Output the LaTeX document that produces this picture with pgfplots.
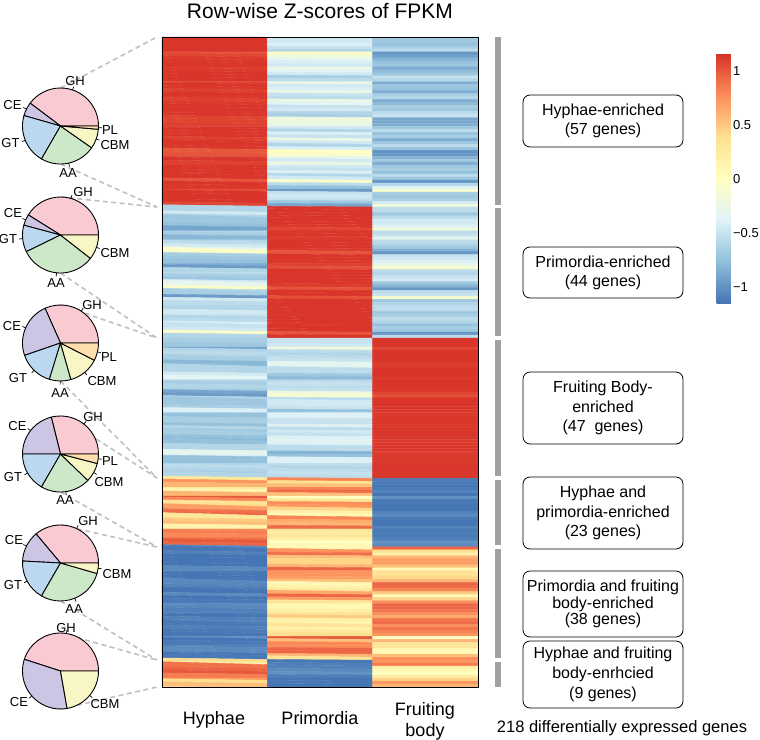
\documentclass[border=0pt]{standalone}
\usepackage{fontspec}
\setmainfont{Liberation Sans}
\usepackage{pgfplots}
\pgfplotsset{compat=1.18}
\definecolor{cGH}{RGB}{250,202,210}
\definecolor{cCE}{RGB}{205,197,228}
\definecolor{cGT}{RGB}{188,216,240}
\definecolor{cAA}{RGB}{205,232,200}
\definecolor{cCBM}{RGB}{248,246,196}
\definecolor{cPL}{RGB}{253,222,172}
\definecolor{barg}{RGB}{160,160,160}
\definecolor{dashg}{RGB}{192,192,192}
\newcommand{\slice}[5]{\filldraw[fill=#5,draw=black,line width=0.9pt,line join=round] (#1,#2) -- ++(#3:38) arc[start angle=#3,end angle=#4,radius=38] -- cycle;}
\newcommand{\ptick}[3]{\draw[line width=0.7pt] (#1,#2) ++(#3:38) -- ++(#3:3.5);}
\begin{document}
\begin{tikzpicture}[x=1pt,y=1pt]
\useasboundingbox (0,0) rectangle (760,-739);
% connector lines
\begin{scope}[color=dashg, line width=1.6pt, dash pattern=on 5pt off 3.5pt]
\draw (60.5,-88) -- (157,-37);
\draw (60.5,-164) -- (157,-207);
\draw (60.5,-197) -- (157,-207);
\draw (60.5,-273) -- (157,-338);
\draw (60.5,-305) -- (157,-338);
\draw (60.5,-381) -- (157,-478);
\draw (60.5,-416) -- (157,-478);
\draw (60.5,-492) -- (157,-547);
\draw (60.5,-525) -- (157,-547);
\draw (60.5,-601) -- (157,-660);
\draw (60.5,-633) -- (157,-660);
\draw (60.5,-709) -- (157,-687);
\end{scope}
\begin{axis}[at={(162pt,-687pt)}, anchor=south west, scale only axis,
  width=316pt, height=650pt,
  xmin=-0.5, xmax=2.5, ymin=-0.5, ymax=217.5, y dir=reverse,
  enlargelimits=false, xtick=\empty, ytick=\empty, axis on top,
  axis line style={line width=0.8pt, black}, clip=false,
  colormap={rdylbu}{rgb255=(69,117,180) rgb255=(145,191,219) rgb255=(224,243,248) rgb255=(255,255,191) rgb255=(254,224,144) rgb255=(252,141,89) rgb255=(215,48,39)},
  point meta min=-1.15, point meta max=1.17,
  colorbar,
  colorbar style={at={(parent axis.north east)}, anchor=north west,
    xshift=230pt, yshift=-16pt, scale only axis, width=17pt, height=250pt,
    y dir=normal, ytick={-1,-0.5,0,0.5,1}, yticklabels={−1,−0.5,0,0.5,1},
    yticklabel style={font=\fontsize{13}{14}\selectfont, xshift=-4pt},
    major tick length=0pt, axis line style={draw=none}},
]
\addplot[matrix plot*, mesh/cols=3, point meta=explicit]
 table[header=false, row sep=\\, x expr={mod(\coordindex,3)}, y expr={floor(\coordindex/3)}, meta index=0] {
1.15\\ -0.45\\ -0.70\\
1.15\\ -0.45\\ -0.70\\
1.14\\ -0.40\\ -0.74\\
1.15\\ -0.50\\ -0.65\\
1.15\\ -0.60\\ -0.55\\
1.02\\ -0.05\\ -0.97\\
1.07\\ -0.15\\ -0.92\\
1.12\\ -0.30\\ -0.82\\
1.14\\ -0.40\\ -0.74\\
1.15\\ -0.45\\ -0.70\\
1.10\\ -0.25\\ -0.85\\
1.13\\ -0.35\\ -0.78\\
1.15\\ -0.45\\ -0.70\\
1.15\\ -0.65\\ -0.50\\
1.15\\ -0.55\\ -0.60\\
1.10\\ -0.25\\ -0.85\\
1.15\\ -0.45\\ -0.70\\
1.14\\ -0.40\\ -0.74\\
1.10\\ -0.25\\ -0.85\\
1.15\\ -0.50\\ -0.65\\
1.15\\ -0.55\\ -0.60\\
1.10\\ -0.25\\ -0.85\\
1.13\\ -0.35\\ -0.78\\
1.15\\ -0.50\\ -0.65\\
1.15\\ -0.45\\ -0.70\\
1.15\\ -0.60\\ -0.55\\
1.15\\ -0.65\\ -0.50\\
1.09\\ -0.20\\ -0.89\\
1.09\\ -0.20\\ -0.89\\
1.10\\ -0.25\\ -0.85\\
1.15\\ -0.45\\ -0.70\\
1.15\\ -0.60\\ -0.55\\
1.14\\ -0.40\\ -0.74\\
1.15\\ -0.50\\ -0.65\\
1.10\\ -0.25\\ -0.85\\
1.15\\ -0.45\\ -0.70\\
1.15\\ -0.60\\ -0.55\\
1.14\\ -0.40\\ -0.74\\
1.00\\ 0.00\\ -1.00\\
1.02\\ -0.05\\ -0.97\\
1.12\\ -0.30\\ -0.82\\
1.15\\ -0.45\\ -0.70\\
1.10\\ -0.25\\ -0.85\\
1.15\\ -0.45\\ -0.70\\
1.15\\ -0.50\\ -0.65\\
1.14\\ -0.40\\ -0.74\\
1.15\\ -0.60\\ -0.55\\
1.15\\ -0.45\\ -0.70\\
1.02\\ -0.05\\ -0.97\\
1.15\\ -0.55\\ -0.60\\
1.14\\ -0.75\\ -0.39\\
1.04\\ -0.95\\ -0.09\\
1.15\\ -0.50\\ -0.65\\
1.15\\ -0.45\\ -0.70\\
1.15\\ -0.50\\ -0.65\\
1.15\\ -0.70\\ -0.45\\
1.08\\ -0.90\\ -0.18\\
-0.60\\ 1.15\\ -0.55\\
-0.60\\ 1.15\\ -0.55\\
-0.45\\ 1.15\\ -0.70\\
-0.60\\ 1.15\\ -0.55\\
-0.70\\ 1.15\\ -0.45\\
-0.70\\ 1.15\\ -0.45\\
-0.75\\ 1.14\\ -0.39\\
-0.90\\ 1.08\\ -0.18\\
-0.60\\ 1.15\\ -0.55\\
-0.65\\ 1.15\\ -0.50\\
-0.80\\ 1.12\\ -0.32\\
-0.60\\ 1.15\\ -0.55\\
-0.55\\ 1.15\\ -0.60\\
-0.45\\ 1.15\\ -0.70\\
-0.30\\ 1.12\\ -0.82\\
-0.05\\ 1.02\\ -0.97\\
-0.65\\ 1.15\\ -0.50\\
-0.70\\ 1.15\\ -0.45\\
-0.75\\ 1.14\\ -0.39\\
-0.85\\ 1.10\\ -0.25\\
-0.95\\ 1.04\\ -0.09\\
-0.60\\ 1.15\\ -0.55\\
-0.55\\ 1.15\\ -0.60\\
-0.65\\ 1.15\\ -0.50\\
-0.70\\ 1.15\\ -0.45\\
-0.45\\ 1.15\\ -0.70\\
-0.30\\ 1.12\\ -0.82\\
-0.05\\ 1.02\\ -0.97\\
-0.60\\ 1.15\\ -0.55\\
-0.65\\ 1.15\\ -0.50\\
-0.95\\ 1.04\\ -0.09\\
-0.45\\ 1.15\\ -0.70\\
-0.55\\ 1.15\\ -0.60\\
-0.60\\ 1.15\\ -0.55\\
-0.60\\ 1.15\\ -0.55\\
-0.45\\ 1.15\\ -0.70\\
-0.50\\ 1.15\\ -0.65\\
-0.60\\ 1.15\\ -0.55\\
-0.55\\ 1.15\\ -0.60\\
-0.40\\ 1.14\\ -0.74\\
-0.50\\ 1.15\\ -0.65\\
-0.45\\ 1.15\\ -0.70\\
-0.05\\ 1.02\\ -0.97\\
-0.60\\ 1.15\\ -0.55\\
-0.65\\ -0.50\\ 1.15\\
-0.65\\ -0.50\\ 1.15\\
-0.70\\ -0.45\\ 1.15\\
-0.90\\ -0.18\\ 1.08\\
-0.60\\ -0.55\\ 1.15\\
-0.55\\ -0.60\\ 1.15\\
-0.60\\ -0.55\\ 1.15\\
-0.65\\ -0.50\\ 1.15\\
-0.80\\ -0.32\\ 1.12\\
-0.80\\ -0.32\\ 1.12\\
-0.60\\ -0.55\\ 1.15\\
-0.60\\ -0.55\\ 1.15\\
-0.45\\ -0.70\\ 1.15\\
-0.35\\ -0.78\\ 1.13\\
-0.60\\ -0.55\\ 1.15\\
-0.65\\ -0.50\\ 1.15\\
-0.60\\ -0.55\\ 1.15\\
-0.65\\ -0.50\\ 1.15\\
-0.90\\ -0.18\\ 1.08\\
-0.95\\ -0.09\\ 1.04\\
-0.60\\ -0.55\\ 1.15\\
-0.70\\ -0.45\\ 1.15\\
-0.70\\ -0.45\\ 1.15\\
-0.65\\ -0.50\\ 1.15\\
-0.40\\ -0.74\\ 1.14\\
-0.75\\ -0.39\\ 1.14\\
-0.75\\ -0.39\\ 1.14\\
-0.65\\ -0.50\\ 1.15\\
-0.65\\ -0.50\\ 1.15\\
-0.75\\ -0.39\\ 1.14\\
-0.60\\ -0.55\\ 1.15\\
-0.70\\ -0.45\\ 1.15\\
-0.65\\ -0.50\\ 1.15\\
-0.75\\ -0.39\\ 1.14\\
-0.80\\ -0.32\\ 1.12\\
-0.75\\ -0.39\\ 1.14\\
-0.60\\ -0.55\\ 1.15\\
-0.60\\ -0.55\\ 1.15\\
-0.30\\ -0.82\\ 1.12\\
-0.40\\ -0.74\\ 1.14\\
-0.75\\ -0.39\\ 1.14\\
-0.75\\ -0.39\\ 1.14\\
-0.60\\ -0.55\\ 1.15\\
-0.55\\ -0.60\\ 1.15\\
-0.60\\ -0.55\\ 1.15\\
-0.65\\ -0.50\\ 1.15\\
-0.60\\ -0.55\\ 1.15\\
0.30\\ 0.82\\ -1.12\\
0.75\\ 0.39\\ -1.14\\
0.60\\ 0.55\\ -1.15\\
0.30\\ 0.82\\ -1.12\\
0.15\\ 0.92\\ -1.07\\
0.60\\ 0.55\\ -1.15\\
1.00\\ 0.00\\ -1.00\\
0.80\\ 0.32\\ -1.12\\
0.35\\ 0.78\\ -1.13\\
0.40\\ 0.74\\ -1.14\\
0.70\\ 0.45\\ -1.15\\
0.90\\ 0.18\\ -1.08\\
0.95\\ 0.09\\ -1.04\\
0.30\\ 0.82\\ -1.12\\
0.50\\ 0.65\\ -1.15\\
0.55\\ 0.60\\ -1.15\\
0.15\\ 0.92\\ -1.07\\
0.80\\ 0.32\\ -1.12\\
0.85\\ 0.25\\ -1.10\\
0.80\\ 0.32\\ -1.12\\
0.90\\ 0.18\\ -1.08\\
1.00\\ 0.00\\ -1.00\\
0.95\\ 0.09\\ -1.04\\
-1.05\\ 0.10\\ 0.95\\
-1.14\\ 0.75\\ 0.39\\
-1.08\\ 0.90\\ 0.18\\
-1.15\\ 0.55\\ 0.60\\
-1.15\\ 0.45\\ 0.70\\
-1.15\\ 0.45\\ 0.70\\
-1.15\\ 0.60\\ 0.55\\
-1.04\\ 0.95\\ 0.09\\
-1.14\\ 0.75\\ 0.39\\
-1.14\\ 0.75\\ 0.39\\
-1.15\\ 0.70\\ 0.45\\
-1.15\\ 0.55\\ 0.60\\
-1.05\\ 0.10\\ 0.95\\
-1.07\\ 0.15\\ 0.92\\
-1.12\\ 0.30\\ 0.82\\
-1.15\\ 0.65\\ 0.50\\
-1.04\\ 0.95\\ 0.09\\
-1.15\\ 0.70\\ 0.45\\
-1.13\\ 0.35\\ 0.78\\
-1.05\\ 0.10\\ 0.95\\
-1.05\\ 0.10\\ 0.95\\
-1.09\\ 0.20\\ 0.89\\
-1.13\\ 0.35\\ 0.78\\
-1.15\\ 0.50\\ 0.65\\
-1.09\\ 0.20\\ 0.89\\
-1.07\\ 0.15\\ 0.92\\
-1.13\\ 0.35\\ 0.78\\
-1.09\\ 0.20\\ 0.89\\
-1.12\\ 0.30\\ 0.82\\
-1.14\\ 0.40\\ 0.74\\
-1.00\\ 1.00\\ 0.00\\
-1.15\\ 0.55\\ 0.60\\
-1.12\\ 0.80\\ 0.32\\
-1.12\\ 0.80\\ 0.32\\
-1.04\\ 0.95\\ 0.09\\
-1.04\\ 0.95\\ 0.09\\
-1.15\\ 0.60\\ 0.55\\
-1.13\\ 0.35\\ 0.78\\
0.40\\ -1.14\\ 0.74\\
0.25\\ -1.10\\ 0.85\\
0.90\\ -1.08\\ 0.18\\
0.95\\ -1.04\\ 0.09\\
1.00\\ -1.00\\ 0.00\\
0.85\\ -1.10\\ 0.25\\
0.70\\ -1.15\\ 0.45\\
0.40\\ -1.14\\ 0.74\\
0.55\\ -1.15\\ 0.60\\
};
% group bars
\fill[barg] (axis cs:2.6614,-0.5) rectangle (axis cs:2.7184,56.0);
\fill[barg] (axis cs:2.6614,57.0) rectangle (axis cs:2.7184,99.9);
\fill[barg] (axis cs:2.6614,101.0) rectangle (axis cs:2.7184,146.8);
\fill[barg] (axis cs:2.6614,148.2) rectangle (axis cs:2.7184,169.8);
\fill[barg] (axis cs:2.6614,171.2) rectangle (axis cs:2.7184,207.8);
\fill[barg] (axis cs:2.6614,209.2) rectangle (axis cs:2.7184,217.5);
\end{axis}
% pies
\foreach \a/\b/\c in {0/143/cGH,143/164/cCE,164/240/cGT,240/325/cAA,325/355/cCBM,355/360/cPL}{\slice{60.5}{-126}{\a}{\b}{\c}}
\foreach \m in {71.5,153.5,202,282.5,340,357.5}{\ptick{60.5}{-126}{\m}}
\foreach \a/\b/\c in {0/148/cGH,148/165/cCE,165/206/cGT,206/322/cAA,322/360/cCBM}{\slice{60.5}{-235}{\a}{\b}{\c}}
\foreach \m in {74,156.5,185.5,264,341}{\ptick{60.5}{-235}{\m}}
\foreach \a/\b/\c in {0/114/cGH,114/199/cCE,199/253/cGT,253/286/cAA,286/333/cCBM,333/360/cPL}{\slice{60.5}{-343}{\a}{\b}{\c}}
\foreach \m in {57,156.5,226,269.5,309.5,346.5}{\ptick{60.5}{-343}{\m}}
\foreach \a/\b/\c in {0/104/cGH,104/180/cCE,180/240/cGT,240/316/cAA,316/345.5/cCBM,345.5/360/cPL}{\slice{60.5}{-454}{\a}{\b}{\c}}
\foreach \m in {52,142,210,278,330.75,352.75}{\ptick{60.5}{-454}{\m}}
\foreach \a/\b/\c in {0/130/cGH,130/177/cCE,177/240/cGT,240/344/cAA,344/360/cCBM}{\slice{60.5}{-563}{\a}{\b}{\c}}
\foreach \m in {65,153.5,208.5,292,352}{\ptick{60.5}{-563}{\m}}
\foreach \a/\b/\c in {0/162/cGH,162/280/cCE,280/360/cCBM}{\slice{60.5}{-671}{\a}{\b}{\c}}
\foreach \m in {81,221,320}{\ptick{60.5}{-671}{\m}}
% pie labels
\begin{scope}[every node/.style={font=\fontsize{13}{13}\selectfont, inner sep=0pt}]
\node at (75,-81) {GH}; \node at (12.5,-105) {CE}; \node at (10.5,-143) {GT};
\node at (68,-173) {AA}; \node at (115,-145) {CBM}; \node at (110,-130) {PL};
\node at (83,-192) {GH}; \node at (13,-213) {CE}; \node at (8,-239) {GT};
\node at (56,-283) {AA}; \node at (115,-253) {CBM};
\node at (92,-305) {GH}; \node at (12,-326) {CE}; \node at (18,-378) {GT};
\node at (60,-393) {AA}; \node at (102,-381) {CBM}; \node at (109,-357) {PL};
\node at (93,-417) {GH}; \node at (17.5,-426) {CE}; \node at (13,-477) {GT};
\node at (65,-500) {AA}; \node at (109,-482) {CBM}; \node at (110,-461) {PL};
\node at (88,-521) {GH}; \node at (14,-540) {CE}; \node at (13,-585) {GT};
\node at (74,-609) {AA}; \node at (117,-574) {CBM};
\node at (66,-628) {GH}; \node at (19,-702) {CE}; \node at (105,-704) {CBM};
\end{scope}
% title and column labels
\node[font=\fontsize{21}{24}\selectfont] at (320,-10.5) {Row-wise Z-scores of FPKM};
\node[font=\fontsize{18}{21}\selectfont, anchor=base] at (214,-724) {Hyphae};
\node[font=\fontsize{18}{21}\selectfont, anchor=base] at (320,-724) {Primordia};
\node[font=\fontsize{18}{21}\selectfont, anchor=base] at (425,-715) {Fruiting};
\node[font=\fontsize{18}{21}\selectfont, anchor=base] at (425,-736) {body};
% boxes
\begin{scope}[line width=0.8pt, rounded corners=7pt]
\draw (523,-95) rectangle (683,-147);
\draw (523,-247) rectangle (683,-298);
\draw (523,-372) rectangle (683,-444);
\draw (523,-477) rectangle (683,-549);
\draw (523,-571) rectangle (683,-637);
\draw (523,-641) rectangle (683,-708);
\end{scope}
\begin{scope}[every node/.style={align=center, font=\fontsize{16}{19}\selectfont, inner sep=0pt}]
\node at (603,-121) {Hyphae-enriched\\(57 genes)};
\node at (603,-272.5) {Primordia-enriched\\(44 genes)};
\node[font=\fontsize{16}{19.5}\selectfont] at (603,-408) {Fruiting Body-\\enriched\\(47\ \ genes)};
\node[font=\fontsize{16}{19.5}\selectfont] at (603,-513) {Hyphae and\\primordia-enriched\\(23 genes)};
\node[font=\fontsize{16}{16.8}\selectfont] at (603,-604) {Primordia and fruiting\\body-enriched\\(38 genes)};
\node[font=\fontsize{16}{20}\selectfont] at (603,-674.5) {Hyphae and fruiting\\body-enrhcied\\(9 genes)};
\end{scope}
\node[font=\fontsize{16.5}{18}\selectfont] at (622,-728) {218 differentially expressed genes};
\end{tikzpicture}
\end{document}
